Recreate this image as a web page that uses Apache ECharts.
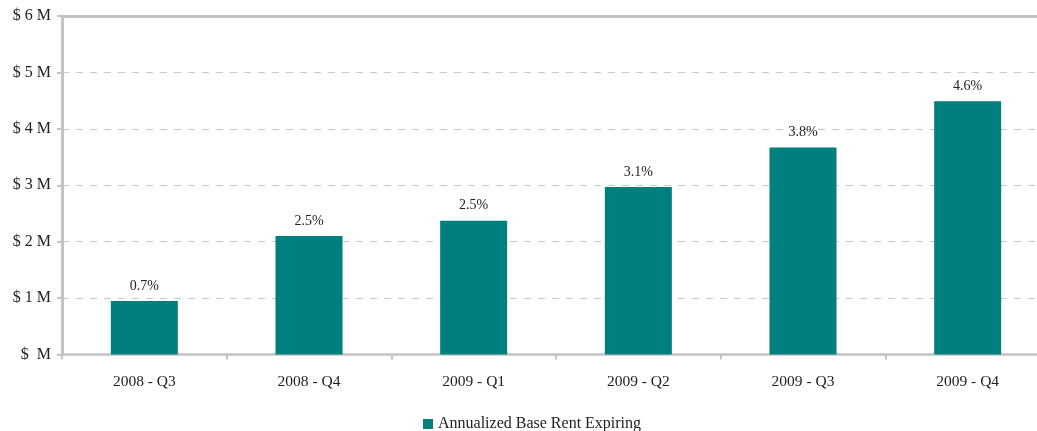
<!DOCTYPE html>
<html>
<head>
<meta charset="utf-8">
<script src="https://cdn.jsdelivr.net/npm/echarts@6/dist/echarts.min.js"></script>
<style>
  html, body { margin: 0; padding: 0; background: #fff; }
  #chart { width: 1037px; height: 431px; }
</style>
</head>
<body>
<div id="chart"></div>
<script>
// Quarterly expirations: annualized base rent ($ millions) and share of total rent
const quarters = ['2008 - Q3', '2008 - Q4', '2009 - Q1', '2009 - Q2', '2009 - Q3', '2009 - Q4'];
const rentMillions = [0.95, 2.10, 2.37, 2.97, 3.67, 4.49];
const rentShare = ['0.7%', '2.5%', '2.5%', '3.1%', '3.8%', '4.6%'];
const seriesName = 'Annualized Base Rent Expiring';

const TEAL = '#007f7f';
const AXIS_GREY = '#c3c3c3';
const TEXT = '#222';
const FONT = '"Liberation Serif", "Times New Roman", serif';

const chart = echarts.init(document.getElementById('chart'), null, { renderer: 'canvas' });

chart.setOption({
  animation: false,
  textStyle: { fontFamily: FONT },
  // plot area runs slightly past the right edge of the canvas
  grid: {
    left: 62, width: 988, top: 16, height: 338.5,
    containLabel: false,
    outerBoundsMode: 'none'
  },
  legend: {
    data: [seriesName],
    left: 418,
    top: 411,
    itemWidth: 10,
    itemHeight: 10,
    itemGap: 5,
    icon: 'rect',
    textStyle: { fontFamily: FONT, fontSize: 16, color: TEXT }
  },
  xAxis: [
    {
      type: 'category',
      data: quarters,
      axisLine: { lineStyle: { color: AXIS_GREY, width: 2.5 } },
      axisTick: { show: true, length: 5, lineStyle: { color: AXIS_GREY, width: 2 } },
      axisLabel: { color: TEXT, fontFamily: FONT, fontSize: 15.5, margin: 19 }
    },
    {
      // solid frame line along the top of the plot
      type: 'category',
      data: quarters,
      position: 'top',
      axisLine: { lineStyle: { color: AXIS_GREY, width: 3 } },
      axisTick: { show: false },
      axisLabel: { show: false }
    }
  ],
  yAxis: {
    type: 'value',
    min: 0,
    max: 6,
    interval: 1,
    axisLine: { show: true, lineStyle: { color: AXIS_GREY, width: 3 } },
    axisTick: { show: true, length: 5, lineStyle: { color: AXIS_GREY, width: 2 } },
    axisLabel: {
      color: TEXT,
      fontFamily: FONT,
      fontSize: 16,
      margin: 11,
      formatter: v => (v === 0 ? '$  M' : '$ ' + v + ' M')
    },
    splitLine: { show: true, lineStyle: { color: '#c8c8c8', width: 1, type: [7, 7] } }
  },
  series: [
    {
      name: seriesName,
      type: 'bar',
      data: rentMillions,
      barWidth: 67,
      itemStyle: { color: TEAL },
      label: {
        show: true,
        position: 'top',
        distance: 8,
        color: TEXT,
        fontFamily: FONT,
        fontSize: 14,
        formatter: p => rentShare[p.dataIndex]
      }
    }
  ]
});
</script>
</body>
</html>
